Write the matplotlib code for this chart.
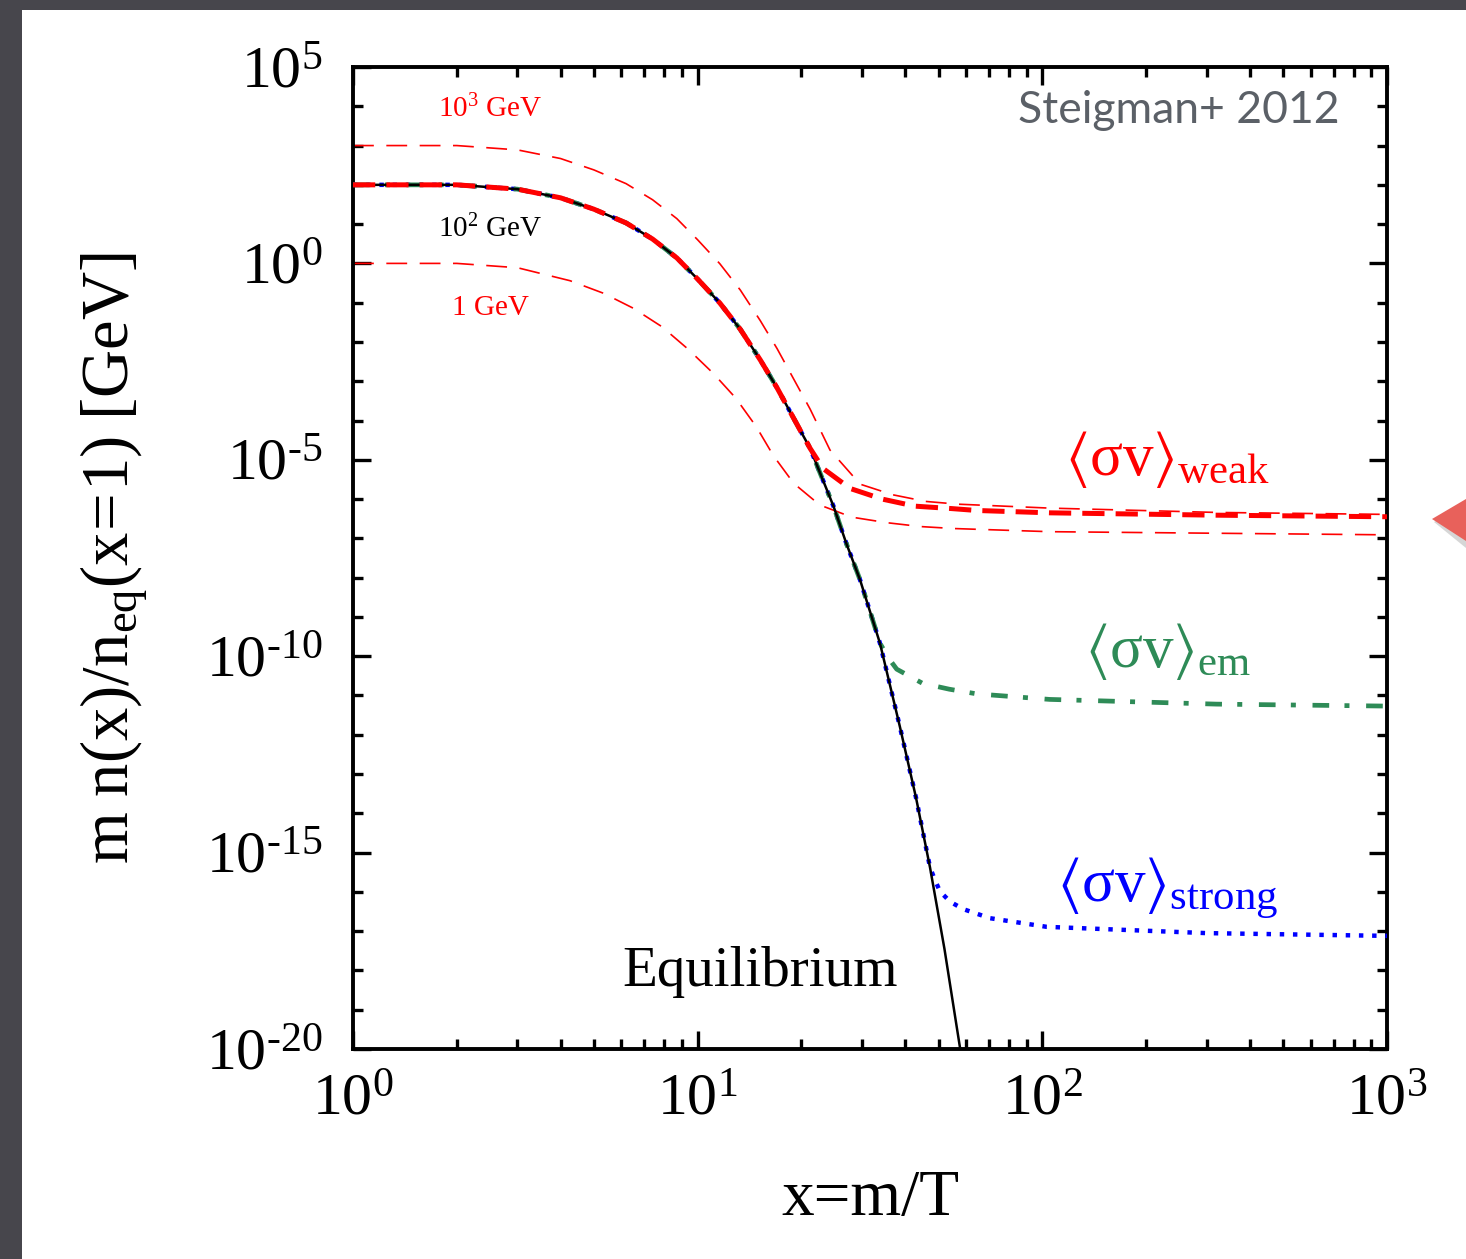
import numpy as np
import matplotlib.pyplot as plt
from matplotlib.patches import Rectangle, Polygon
from matplotlib.ticker import FixedLocator, FixedFormatter, NullFormatter

plt.rcParams["font.family"] = ["Liberation Serif", "DejaVu Serif"]
plt.rcParams["mathtext.fontset"] = "custom"
plt.rcParams["mathtext.rm"] = "Liberation Serif"
plt.rcParams["mathtext.it"] = "Liberation Serif:italic"
plt.rcParams["mathtext.bf"] = "Liberation Serif:bold"
plt.rcParams["lines.scale_dashes"] = False

# equilibrium curve, m = 10^2 GeV (log10 of m n/n_eq(1))
x_eq = [1, 2, 3, 4, 5, 6.2, 7.4, 8.7, 10, 11.6, 13.3, 15.2, 17, 18.9, 21.2,
        24.8, 27.0, 29.6, 33.8, 38.6, 43, 47.2, 52, 57.7]
ly_eq = [2.0, 2.0, 1.89, 1.67, 1.38, 1.03, 0.62, 0.14, -0.40, -1.01, -1.68, -2.46,
         -3.17, -3.91, -4.71, -6.19, -7.13, -8.06, -9.67, -11.79, -13.6, -15.37,
         -17.45, -19.97]

# weak cross section, m = 10^2 GeV
x_weak = [1, 2, 3, 4, 5, 6.2, 7.4, 8.7, 10, 11.6, 13.3, 15.2, 17, 18.9, 21.2,
          23.1, 27.7, 34.3, 42.7, 54.2, 64.5, 105, 320, 1000]
ly_weak = [2.0, 2.0, 1.89, 1.67, 1.38, 1.03, 0.62, 0.14, -0.40, -1.01, -1.68, -2.46,
           -3.17, -3.91, -4.71, -5.22, -5.73, -6.0, -6.18, -6.24, -6.29, -6.35,
           -6.41, -6.45]

# weak cross section, m = 10^3 GeV
x_1000 = [1, 2, 3, 4, 5, 6.2, 7.4, 8.7, 10, 11.6, 13.3, 15.2, 17, 18.9, 21.2,
          24.2, 29.6, 36.8, 45.9, 57, 105, 320, 1000]
ly_1000 = [3.0, 3.0, 2.89, 2.67, 2.38, 2.03, 1.62, 1.14, 0.60, -0.01, -0.68, -1.46,
           -2.17, -2.91, -3.71, -4.75, -5.62, -5.89, -6.06, -6.13, -6.23, -6.34,
           -6.39]

# weak cross section, m = 1 GeV
x_1 = [1, 2, 3, 4.26, 5.33, 6.5, 7.87, 9.4, 11.1, 12.9, 14.8, 16.6, 19.0, 22.6,
       28, 35.3, 44.4, 55.4, 105, 320, 1000]
ly_1 = [0.0, 0.0, -0.11, -0.44, -0.76, -1.14, -1.61, -2.19, -2.80, -3.43, -4.16,
        -4.90, -5.60, -6.15, -6.46, -6.60, -6.70, -6.75, -6.83, -6.87, -6.91]

# electromagnetic cross section
x_em = [1, 2, 3, 4, 5, 6.2, 7.4, 8.7, 10, 11.6, 13.3, 15.2, 17, 18.9, 21.2,
        24.8, 27.0, 29.6, 33.8, 35.8, 37.8, 44.9, 53.7, 64.6, 105, 320, 1000]
ly_em = [2.0, 2.0, 1.89, 1.67, 1.38, 1.03, 0.62, 0.14, -0.40, -1.01, -1.68, -2.46,
         -3.17, -3.91, -4.71, -6.19, -7.13, -8.06, -9.67, -10.05, -10.33, -10.69,
         -10.84, -10.96, -11.10, -11.22, -11.27]

# strong cross section
x_strong = [1, 2, 3, 4, 5, 6.2, 7.4, 8.7, 10, 11.6, 13.3, 15.2, 17, 18.9, 21.2,
            24.8, 27.0, 29.6, 33.8, 38.6, 43, 47.2, 48.8, 50.5, 54, 59, 70.5,
            103, 300, 1000]
ly_strong = [2.0, 2.0, 1.89, 1.67, 1.38, 1.03, 0.62, 0.14, -0.40, -1.01, -1.68,
             -2.46, -3.17, -3.91, -4.71, -6.19, -7.13, -8.06, -9.67, -11.79, -13.6,
             -15.37, -15.70, -15.99, -16.25, -16.44, -16.67, -16.89, -17.05, -17.12]

y_major = [-20, -15, -10, -5, 0, 5]
x_major = [0, 1, 2, 3]

RED = "#ff0000"
GREEN = "#2e8b57"
BLUE = "#0000ff"

fig = plt.figure(figsize=(14.66, 12.59), dpi=100)
fig.patch.set_facecolor("#47464c")
fig.add_artist(Rectangle((22 / 1466, 0), 1, 1 - 10 / 1259, transform=fig.transFigure,
                         fc="white", ec="none", zorder=0))
fig.add_artist(Polygon([(1434 / 1466, 1 - 522 / 1259), (1, 1 - 500 / 1259), (1, 1 - 548 / 1259)],
                       closed=True, transform=fig.transFigure, fc="#bcbcbc", ec="none",
                       alpha=0.6, zorder=1))
fig.add_artist(Polygon([(1432 / 1466, 1 - 519 / 1259), (1, 1 - 499 / 1259), (1, 1 - 541 / 1259)],
                       closed=True, transform=fig.transFigure, fc="#e8615b", ec="none", zorder=2))

ax = fig.add_axes([353 / 1466, 1 - 1049 / 1259, 1034 / 1466, 982 / 1259])
ax.set_facecolor("none")


def pw(v):
    return 10.0 ** np.array(v)


ax.plot(x_1000, pw(ly_1000), color=RED, lw=1.2, dashes=(15, 9), zorder=2)
ax.plot(x_1, pw(ly_1), color=RED, lw=1.2, dashes=(15, 9), zorder=2)
ax.plot(x_strong, pw(ly_strong), color=BLUE, lw=3.2, dashes=(3.2, 6.3), zorder=3)
ax.plot(x_em, pw(ly_em), color=GREEN, lw=3.4, dashes=(12, 11, 3.6, 12), zorder=4)
ax.plot(x_eq, pw(ly_eq), color="black", lw=1.8, zorder=5)
ax.plot(x_weak, pw(ly_weak), color=RED, lw=3.6, dashes=(16, 8), zorder=6)

ax.set_xscale("log")
ax.set_yscale("log")
ax.set_xlim(1, 1000)
ax.set_ylim(1e-20, 1e5)

ax.yaxis.set_major_locator(FixedLocator([10.0 ** e for e in y_major]))
ax.yaxis.set_major_formatter(FixedFormatter(
    [r"$\mathregular{10^{%s}}$" % (str(e).replace("-", "\u2010")) for e in y_major]))
ax.yaxis.set_minor_locator(FixedLocator([10.0 ** e for e in range(-20, 6)]))
ax.yaxis.set_minor_formatter(NullFormatter())
ax.xaxis.set_major_locator(FixedLocator([10.0 ** e for e in x_major]))
ax.xaxis.set_major_formatter(FixedFormatter([r"$\mathregular{10^{%d}}$" % e for e in x_major]))
ax.xaxis.set_minor_locator(FixedLocator([m * 10.0 ** e for e in range(0, 3) for m in range(2, 10)]))
ax.xaxis.set_minor_formatter(NullFormatter())

ax.tick_params(which="both", direction="in", top=True, right=True, width=2.4, labelsize=43)
ax.tick_params(which="major", length=13)
ax.tick_params(which="minor", length=7)
ax.tick_params(axis="y", which="major", pad=22)
ax.tick_params(axis="x", which="major", pad=18)
for s in ax.spines.values():
    s.set_linewidth(2.8)

ax.set_xlabel("x=m/T", fontsize=47)
ax.xaxis.set_label_coords(0.5, -0.123)
ax.set_ylabel(r"$\mathregular{m\ n(x)/n_{eq}(x\!=\!1)\ [GeV]}$", fontsize=48)
ax.yaxis.set_label_coords(-0.196, 0.5)

ax.text(0.394, 0.078, "Equilibrium", transform=ax.transAxes, fontsize=41,
        ha="center", va="center")
ax.text(0.689, 0.5845, r"$\mathregular{\langle σv\rangle_{weak}}$", transform=ax.transAxes,
        fontsize=44, color=RED, ha="left", va="baseline")
ax.text(0.708, 0.389, r"$\mathregular{\langle σv\rangle_{em}}$", transform=ax.transAxes,
        fontsize=44, color=GREEN, ha="left", va="baseline")
ax.text(0.681, 0.150, r"$\mathregular{\langle σv\rangle_{strong}}$", transform=ax.transAxes,
        fontsize=44, color=BLUE, ha="left", va="baseline")

ax.text(0.082, 0.949, r"$\mathregular{10^3\ GeV}$", transform=ax.transAxes, fontsize=21,
        color=RED, ha="left", va="baseline")
ax.text(0.082, 0.827, r"$\mathregular{10^2\ GeV}$", transform=ax.transAxes, fontsize=21,
        color="black", ha="left", va="baseline")
ax.text(0.096, 0.747, "1 GeV", transform=ax.transAxes, fontsize=21,
        color=RED, ha="left", va="baseline")

ax.text(0.9545, 0.943, "Steigman+ 2012", transform=ax.transAxes, fontsize=32,
        family="Lato", color="#5b6067", ha="right", va="baseline")

fig.savefig("out.png", dpi=100, facecolor=fig.get_facecolor())
